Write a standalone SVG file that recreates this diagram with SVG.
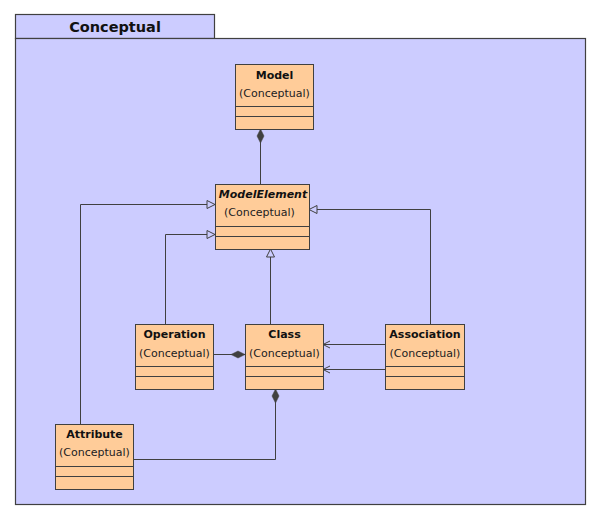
<svg xmlns="http://www.w3.org/2000/svg" width="600" height="520" viewBox="0 0 600 520">
<defs>
<style>
.pkg{fill:#CCCCFF;stroke:#404040;stroke-width:1.2}
.box{fill:#FFCC99;stroke:#404040;stroke-width:1}
.sep{stroke:#404040;stroke-width:1}
.ln{fill:none;stroke:#404040;stroke-width:1}
.title{font-family:"DejaVu Sans",sans-serif;font-weight:bold;font-size:14.5px;fill:#111;text-anchor:middle}
.nm{font-family:"DejaVu Sans",sans-serif;font-weight:bold;font-size:11px;fill:#111;text-anchor:middle}
.nmi{font-family:"DejaVu Sans",sans-serif;font-weight:bold;font-style:italic;font-size:11px;fill:#111;text-anchor:middle}
.st{font-family:"DejaVu Sans",sans-serif;font-size:11px;fill:#222;text-anchor:middle}
</style>
<marker id="tri" markerUnits="userSpaceOnUse" markerWidth="10" markerHeight="10" refX="8" refY="4" orient="auto" overflow="visible">
<path d="M0,0 L8,4 L0,8 Z" fill="#CCCCFF" stroke="#404040" stroke-width="1"/>
</marker>
<marker id="dia" markerUnits="userSpaceOnUse" markerWidth="16" markerHeight="8" refX="0" refY="3.5" orient="auto" overflow="visible">
<path d="M0,3.5 L7,0 L14,3.5 L7,7 Z" fill="#404040" stroke="#404040" stroke-width="0.5"/>
</marker>
<marker id="open" markerUnits="userSpaceOnUse" markerWidth="8" markerHeight="8" refX="7" refY="3.5" orient="auto" overflow="visible">
<path d="M0,0 L7,3.5 L0,7" fill="none" stroke="#404040" stroke-width="1"/>
</marker>
</defs>
<rect width="600" height="520" fill="#FFFFFF"/>
<g id="package">
<rect class="pkg" x="15.5" y="14.5" width="199" height="24"/>
<rect class="pkg" x="15.5" y="38.5" width="570" height="466"/>
<text class="title" x="115" y="32">Conceptual</text>
</g>
<g id="connectors">
<path class="ln" d="M260.5,129 L260.5,184" marker-start="url(#dia)"/>
<path class="ln" d="M80.5,424 L80.5,204.5 L215,204.5" marker-end="url(#tri)"/>
<path class="ln" d="M165.5,324 L165.5,234.5 L215,234.5" marker-end="url(#tri)"/>
<path class="ln" d="M270.5,324 L270.5,249" marker-end="url(#tri)"/>
<path class="ln" d="M430.5,324 L430.5,209.5 L309,209.5" marker-end="url(#tri)"/>
<path class="ln" d="M245,354.5 L213,354.5" marker-start="url(#dia)"/>
<path class="ln" d="M385,344.5 L323,344.5" marker-end="url(#open)"/>
<path class="ln" d="M385,369.5 L323,369.5" marker-end="url(#open)"/>
<path class="ln" d="M275.5,389 L275.5,459.5 L133,459.5" marker-start="url(#dia)"/>
</g>
<g id="Model">
<rect class="box" x="235.5" y="64.5" width="78" height="65"/>
<line class="sep" x1="235.5" y1="106.5" x2="313.5" y2="106.5"/>
<line class="sep" x1="235.5" y1="116.5" x2="313.5" y2="116.5"/>
<text class="nm" x="274.5" y="79">Model</text>
<text class="st" x="274.5" y="97">(Conceptual)</text>
</g>
<g id="ModelElement">
<rect class="box" x="215.5" y="184.5" width="94" height="65"/>
<line class="sep" x1="215.5" y1="226.5" x2="309.5" y2="226.5"/>
<line class="sep" x1="215.5" y1="236.5" x2="309.5" y2="236.5"/>
<text class="nmi" x="263" y="198">ModelElement</text>
<text class="st" x="259.5" y="216">(Conceptual)</text>
</g>
<g id="Operation">
<rect class="box" x="135.5" y="324.5" width="78" height="65"/>
<line class="sep" x1="135.5" y1="366.5" x2="213.5" y2="366.5"/>
<line class="sep" x1="135.5" y1="376.5" x2="213.5" y2="376.5"/>
<text class="nm" x="174.5" y="338">Operation</text>
<text class="st" x="174.5" y="357">(Conceptual)</text>
</g>
<g id="Class">
<rect class="box" x="245.5" y="324.5" width="78" height="65"/>
<line class="sep" x1="245.5" y1="366.5" x2="323.5" y2="366.5"/>
<line class="sep" x1="245.5" y1="376.5" x2="323.5" y2="376.5"/>
<text class="nm" x="284.5" y="338">Class</text>
<text class="st" x="284.5" y="357">(Conceptual)</text>
</g>
<g id="Association">
<rect class="box" x="385.5" y="324.5" width="79" height="65"/>
<line class="sep" x1="385.5" y1="366.5" x2="464.5" y2="366.5"/>
<line class="sep" x1="385.5" y1="376.5" x2="464.5" y2="376.5"/>
<text class="nm" x="425" y="338">Association</text>
<text class="st" x="425" y="357">(Conceptual)</text>
</g>
<g id="Attribute">
<rect class="box" x="55.5" y="424.5" width="78" height="65"/>
<line class="sep" x1="55.5" y1="466.5" x2="133.5" y2="466.5"/>
<line class="sep" x1="55.5" y1="476.5" x2="133.5" y2="476.5"/>
<text class="nm" x="94.5" y="438">Attribute</text>
<text class="st" x="94.5" y="456">(Conceptual)</text>
</g>
</svg>
